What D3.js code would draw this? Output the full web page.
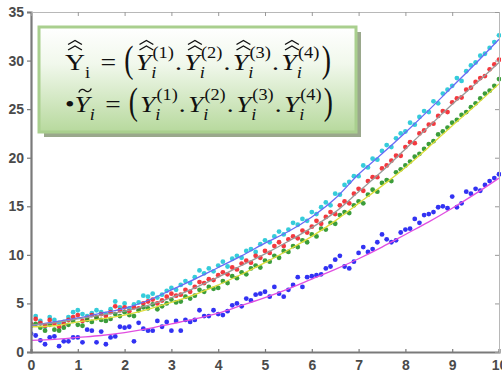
<!DOCTYPE html>
<html><head><meta charset="utf-8">
<script src="https://cdn.jsdelivr.net/npm/d3@7"></script>
<style>body{margin:0;background:#fff}svg{display:block}</style>
</head><body>
<svg id="c" width="502" height="372"></svg>
<script>
// ---- data ----
const xValues = d3.range(0, 101).map(i => i / 10);
const fitX = d3.range(0, 21).map(i => i / 2);
const xTicks = [0,1,2,3,4,5,6,7,8,9,10];
const yTicks = [0,5,10,15,20,25,30,35];

const cyanDots = [2.9,3.7,3.2,2.6,3.6,3.3,3.0,3.1,3.6,4.1,4.3,3.9,3.7,4.0,4.3,4.1,3.9,4.4,5.2,4.6,
5.0,4.5,4.9,5.1,5.8,5.7,6.0,5.6,5.9,6.3,6.6,6.4,6.9,7.3,7.1,7.7,8.4,8.1,8.6,8.3,
8.9,9.3,8.8,9.6,9.9,9.7,10.4,10.6,10.3,11.1,11.5,11.3,11.9,12.4,12.1,12.6,13.3,13.1,13.7,13.5,
14.4,14.2,14.9,15.4,15.1,16.3,16.2,17.2,17.5,18.1,18.1,19.2,19.0,19.9,19.8,20.7,21.3,21.1,22.0,22.5,
22.7,23.6,23.4,24.2,24.8,24.7,25.8,25.6,26.6,27.0,27.4,28.2,27.9,28.9,29.5,29.8,30.5,30.7,31.3,31.9,32.6];
const redDots = [2.9,3.4,3.0,2.7,3.3,2.9,2.6,2.9,3.3,3.6,3.8,3.2,3.5,3.8,3.6,3.9,3.7,4.1,4.7,4.3,
4.6,4.2,4.6,4.5,5.0,5.2,5.4,5.0,5.3,5.7,6.0,5.8,5.9,6.4,6.2,6.7,7.2,7.1,7.5,7.4,
7.9,8.2,8.0,8.7,8.5,9.1,9.4,9.2,9.9,9.7,10.4,10.2,10.9,11.3,10.9,11.6,11.9,11.7,12.5,12.3,
12.9,13.5,13.2,13.9,14.4,14.2,15.1,15.5,15.3,16.3,16.8,16.6,17.6,18.0,18.0,18.9,19.2,19.7,20.2,20.2,
21.1,21.6,21.5,22.5,22.8,23.4,23.5,24.3,24.8,24.7,25.7,26.1,26.2,27.0,27.2,27.8,28.2,28.4,29.1,29.6,30.1];
const greenDots = [2.7,2.9,2.5,2.2,2.8,2.3,2.2,2.5,2.8,3.2,2.8,2.7,3.3,3.1,3.5,3.3,3.2,3.4,3.9,3.7,
4.1,3.8,3.7,4.3,4.6,4.5,4.9,4.4,4.7,5.0,5.4,5.1,5.2,5.7,5.5,5.8,6.4,6.2,6.7,6.5,
6.6,7.3,7.1,7.8,7.6,8.2,8.0,8.6,8.9,8.7,9.4,9.3,9.9,9.7,10.4,10.3,10.9,10.8,11.5,11.3,
12.1,11.9,12.7,12.6,13.3,13.2,14.1,14.4,14.3,15.1,15.5,15.3,16.2,16.7,16.5,17.4,17.7,17.6,18.5,18.8,
19.2,19.6,20.1,20.4,20.9,21.4,21.7,22.4,22.7,23.1,23.6,23.9,24.4,24.7,25.2,25.6,26.1,26.6,26.9,27.4,28.1];
const blueDots = [1.9,1.7,1.2,0.8,1.5,1.6,0.6,1.1,1.1,1.5,1.5,1.0,2.3,2.2,1.0,2.1,0.8,1.5,1.6,2.6,
2.5,2.6,1.1,3.0,2.4,2.2,2.2,3.2,2.6,3.1,2.2,3.2,2.2,3.3,3.1,3.3,4.3,3.7,3.7,4.3,
3.9,3.8,4.2,4.8,5.0,4.7,5.5,5.3,5.9,6.0,6.2,5.7,6.7,6.0,5.7,6.4,6.9,7.7,6.7,7.7,
7.8,7.9,8.0,8.6,8.8,9.5,9.9,8.8,8.6,9.3,10.2,10.8,10.3,10.6,11.3,12.1,11.6,11.3,11.5,12.3,
12.6,12.7,13.7,13.3,14.1,14.2,14.4,14.9,15.0,14.8,16.0,14.9,15.3,16.5,16.3,16.8,16.6,17.2,17.6,17.9,18.3];

const blueFit    = [2.7,3.1,3.5,4.0,4.5,5.3,6.4,7.5,8.7,9.9,11.2,12.4,13.9,15.8,18.3,20.4,22.6,24.9,27.3,29.7,32.2];
const grayFit    = [2.8,3.0,3.4,3.8,4.2,4.8,5.6,6.6,7.7,8.9,10.1,11.4,12.8,14.4,16.5,18.6,20.9,23.2,25.5,27.6,29.8];
const yellowFit  = [2.6,2.7,3.1,3.4,3.8,4.4,5.1,5.9,6.9,8.0,9.2,10.5,11.9,13.5,15.3,17.1,19.0,21.1,23.3,25.4,27.6];
const magentaFit = [1.2,1.3,1.5,1.7,2.0,2.4,2.9,3.4,4.0,4.8,5.6,6.5,7.5,8.5,9.6,10.8,12.1,13.4,14.8,16.3,17.9];

const dotSeries = [
  {vals: cyanDots,  color: "#1fc6d6"},
  {vals: redDots,   color: "#f2232a"},
  {vals: greenDots, color: "#279226"},
  {vals: blueDots,  color: "#1c1cf2"}
];
const fitSeries = [
  {vals: blueFit,    color: "#6a6af6"},
  {vals: grayFit,    color: "#9a9a9a"},
  {vals: yellowFit,  color: "#dedd3c"},
  {vals: magentaFit, color: "#e14ee0"}
];

// ---- chart ----
const svg = d3.select("#c");
const L = 31, R = 499, T = 12, B = 352;
const x = d3.scaleLinear().domain([0,10]).range([L,R]);
const y = d3.scaleLinear().domain([0,35]).range([B,T]);

const defs = svg.append("defs");
defs.append("clipPath").attr("id","clip")
  .append("rect").attr("x",L).attr("y",T).attr("width",R-L+2).attr("height",B-T);

const plot = svg.append("g").attr("clip-path","url(#clip)");

dotSeries.forEach(s => {
  plot.append("g").selectAll("circle").data(s.vals).join("circle")
    .attr("cx",(d,i)=>x(xValues[i])).attr("cy",d=>y(d)).attr("r",2.4)
    .attr("fill",s.color).attr("opacity",0.9);
});
const line = d3.line().x((d,i)=>x(fitX[i])).y(d=>y(d)).curve(d3.curveCatmullRom);
fitSeries.forEach(s => {
  plot.append("path").attr("d",line(s.vals)).attr("fill","none")
    .attr("stroke",s.color).attr("stroke-width",1.3);
});

// axes
const font = "Arial, 'Liberation Sans', sans-serif";
const gx = svg.append("g").attr("transform",`translate(0,${B})`)
  .call(d3.axisBottom(x).tickValues(xTicks).tickSize(-3).tickPadding(8).tickFormat(d3.format("d")));
const gy = svg.append("g").attr("transform",`translate(${L},0)`)
  .call(d3.axisLeft(y).tickValues(yTicks).tickSize(4).tickPadding(3).tickFormat(d3.format("d")));
const gt = svg.append("g").attr("transform",`translate(0,${T})`)
  .call(d3.axisTop(x).tickValues(xTicks).tickSize(-4).tickFormat(""));
const gr = svg.append("g").attr("transform",`translate(${R},0)`)
  .call(d3.axisRight(y).tickValues(yTicks).tickSize(-4).tickFormat(""));
[gt,gr].forEach(g=>{g.select(".domain").attr("stroke","#b8b8b8").attr("stroke-width",1);
  g.selectAll(".tick line").attr("stroke","#999");});
[gx,gy].forEach(g=>{
  g.select(".domain").attr("stroke","#7a7a7a").attr("stroke-width",2.2);
  g.selectAll(".tick line").attr("stroke","#7a7a7a").attr("stroke-width",1.2);
  g.selectAll(".tick text").attr("fill","#4a4a4a").attr("font-family",font)
    .attr("font-size",14).attr("font-weight","bold");
});

// ---- legend box with math ----
const bx = 39, by = 27, bw = 317, bh = 105;
const grad = defs.append("linearGradient").attr("id","bg")
  .attr("x1",0).attr("y1",0).attr("x2",0).attr("y2",1);
grad.append("stop").attr("offset","0%").attr("stop-color","#ffffff");
grad.append("stop").attr("offset","35%").attr("stop-color","#f1f8ec");
grad.append("stop").attr("offset","100%").attr("stop-color","#b7d99d");
svg.append("rect").attr("x",bx+5).attr("y",by+5).attr("width",bw).attr("height",bh).attr("fill","#9aa88c");
svg.append("rect").attr("x",bx).attr("y",by).attr("width",bw).attr("height",bh)
  .attr("fill","url(#bg)").attr("stroke","#a9cf8e").attr("stroke-width",3);

const mfont = "'Liberation Serif', 'DejaVu Serif', serif";
const FS = 24, SS = 16;
function mathLine(x0, xEnd, yb, tokens){
  const g = svg.append("g");
  let cx = x0;
  const txt = (s, xx, yy, size, it) => g.append("text").attr("x",xx).attr("y",yy)
      .attr("font-family",mfont).attr("font-size",size).attr("font-style",it?"italic":"normal")
      .attr("fill","#111").text(s);
  tokens.forEach(tk=>{
    cx += (tk.pre||0);
    if (tk.t === "txt"){
      const n = txt(tk.s, cx, yb, FS, false);
      cx += n.node().getComputedTextLength() + (tk.gap||0);
    } else if (tk.t === "paren"){
      const gp = g.append("g").attr("transform",`translate(${cx},${yb+1.5}) scale(1,1.55)`);
      const n = gp.append("text").attr("font-family",mfont).attr("font-size",FS).attr("fill","#111").text(tk.s);
      cx += n.node().getComputedTextLength() + (tk.gap||0);
    } else if (tk.t === "Y"){
      const n = txt("Y", cx, yb, FS, tk.it);
      const w = n.node().getComputedTextLength();
      const ac = cx + w/2 + (tk.it?2.5:0);
      if (tk.acc === "hat2"){
        [0,5.5].forEach(o=> g.append("path")
          .attr("d",`M${ac-6},${yb-20-o} L${ac},${yb-24-o} L${ac+6},${yb-20-o}`)
          .attr("fill","none").attr("stroke","#111").attr("stroke-width",1.1));
      } else if (tk.acc === "tilde"){
        g.append("path").attr("d",`M${ac-5.5},${yb-19.5} C${ac-4},${yb-23.5} ${ac-1.5},${yb-23} ${ac},${yb-21.5} S${ac+4},${yb-19.5} ${ac+5.5},${yb-23.5}`)
          .attr("fill","none").attr("stroke","#111").attr("stroke-width",1.2);
      }
      let sw = 0;
      if (tk.sub){ const s = txt(tk.sub, cx+w, yb+8, SS, tk.subIt);
        sw = Math.max(sw, s.node().getComputedTextLength()); }
      if (tk.sup){ const s = txt(tk.sup, cx+w+1, yb-12, SS, false);
        sw = Math.max(sw, s.node().getComputedTextLength()+1); }
      cx += w + sw + (tk.gap||0);
    }
  });
  const bb = g.node().getBBox();
  const sx = (xEnd - x0) / bb.width;
  g.attr("transform",`translate(${x0},0) scale(${sx},1) translate(${-x0},0)`);
}
const supLabels = ["(1)","(2)","(3)","(4)"];
const line1 = [{t:"Y",it:false,acc:"hat2",sub:"i",subIt:false},{t:"txt",s:"=",pre:9,gap:7},{t:"paren",s:"(",gap:2}];
supLabels.forEach((s,i)=>{ line1.push({t:"Y",it:true,acc:"hat2",sub:"i",subIt:true,sup:s,gap:1});
  if(i<3) line1.push({t:"txt",s:".",gap:2}); });
line1.push({t:"paren",s:")",pre:1});
const line2 = [{t:"txt",s:"•"},{t:"Y",it:true,acc:"tilde",sub:"i",subIt:true},{t:"txt",s:"=",pre:9,gap:7},{t:"paren",s:"(",gap:2}];
supLabels.forEach((s,i)=>{ line2.push({t:"Y",it:true,sub:"i",subIt:true,sup:s,gap:1});
  if(i<3) line2.push({t:"txt",s:".",gap:2}); });
line2.push({t:"paren",s:")",pre:1});
mathLine(65, 331, 70, line1);
mathLine(65, 333, 112, line2);
</script>
</body></html>
